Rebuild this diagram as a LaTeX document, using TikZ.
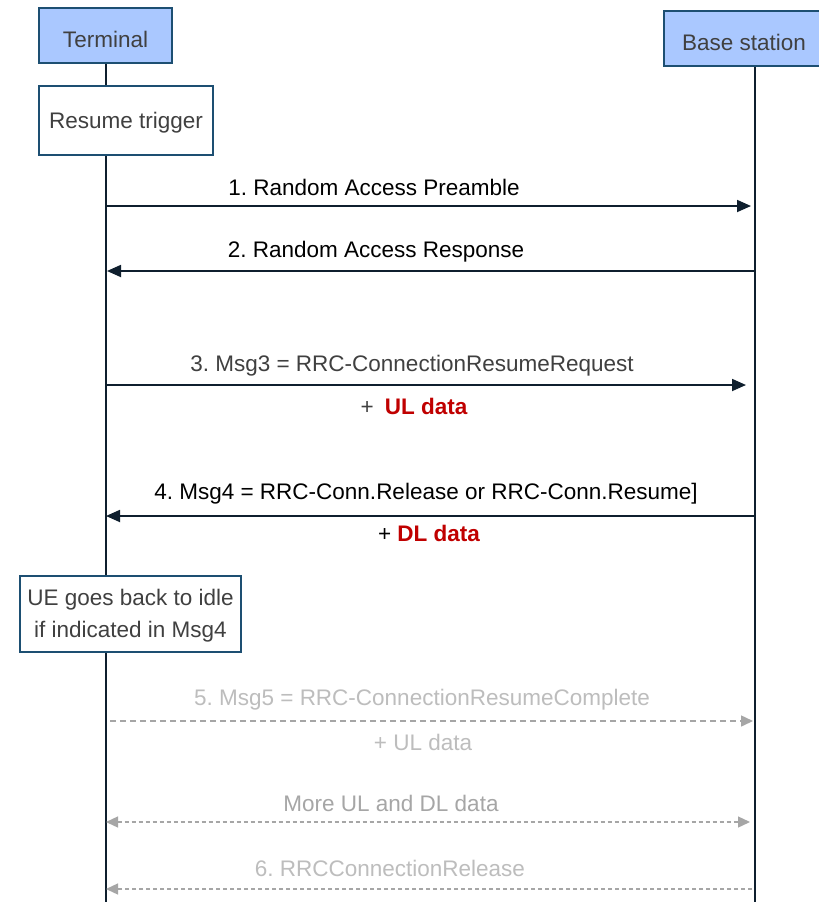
\documentclass[tikz,border=0pt]{standalone}
\usepackage{fontspec}
\setmainfont{Liberation Sans}
\usetikzlibrary{arrows.meta}
\frenchspacing
\definecolor{boxfill}{HTML}{AAC8FF}
\definecolor{boxline}{HTML}{1D4F72}
\definecolor{txt}{HTML}{404040}
\definecolor{life}{HTML}{0F1F2E}
\definecolor{ared}{HTML}{C00000}
\definecolor{lgray}{HTML}{BDBDBD}
\definecolor{mgray}{HTML}{A6A6A6}
\tikzset{
  ent/.style={draw=boxline, line width=2.6pt, fill=boxfill, text=txt, inner sep=0pt},
  note/.style={draw=boxline, line width=2.6pt, fill=white, text=txt, inner sep=0pt, align=center},
  lifeline/.style={draw=life, line width=2.4pt},
  msg/.style={draw=life, line width=1.8pt, -{Triangle[length=14pt,width=12pt]}},
  dmsg/.style={draw=mgray, line width=1.5pt, dash pattern=on 6pt off 4pt, -{Triangle[length=12pt,width=11pt]}},
  dmsg2/.style={draw=mgray, line width=1.3pt, dash pattern=on 4pt off 3pt, {Triangle[length=12pt,width=11pt]}-{Triangle[length=12pt,width=11pt]}},
  lbl/.style={inner sep=0pt, text=black},
  glbl/.style={inner sep=0pt, text=lgray},
}
\begin{document}
\begin{tikzpicture}[x=1pt,y=-1pt, font=\fontsize{22.5}{27}\selectfont]
\clip (0,0) rectangle (819,902);
\fill[white] (0,0) rectangle (819,902);
% lifelines
\coordinate (tb) at (106,910);
\coordinate (bb) at (755,910);
\draw[lifeline] (106,60) -- (tb);
\draw[lifeline] (755,60) -- (bb);
% entity boxes
\node[ent, minimum width=133pt, minimum height=55pt] (term) at (105.5,35.5) {};
\node[text=txt, inner sep=0pt] (termtxt) at (105.5,39) {Terminal};
\node[ent, minimum width=160pt, minimum height=55pt] (base) at (744,38.5) {};
\node[text=txt, inner sep=0pt] (basetxt) at (744,42) {Base station};
% notes
\node[note, minimum width=174pt, minimum height=69pt] (trig) at (126,120.5) {};
\node[text=txt, inner sep=0pt] (trigtxt) at (126,122.5) {Resume trigger};
\node[note, minimum width=221pt, minimum height=76pt] (idle) at (130.5,614) {};
\node[text=txt, inner sep=0pt] (idle1) at (130.5,600) {UE goes back to idle};
\node[text=txt, inner sep=0pt] (idle2) at (130.5,631.5) {if indicated in Msg4};
% message endpoints
\coordinate (t1) at (106,206); \coordinate (b1) at (751,206);
\coordinate (b2) at (755,271); \coordinate (t2) at (107,271);
\coordinate (t3) at (106,385); \coordinate (b3) at (746,385);
\coordinate (b4) at (755,516); \coordinate (t4) at (106,516);
\coordinate (t5) at (110,721); \coordinate (b5) at (753,721);
\coordinate (t6) at (106,822); \coordinate (b6) at (750,822);
\coordinate (b7) at (752,889); \coordinate (t7) at (106,889);
% messages
\draw[msg] (t1) -- (b1);
\draw[msg] (b2) -- (t2);
\draw[msg] (t3) -- (b3);
\draw[msg] (b4) -- (t4);
\draw[dmsg] (t5) -- (b5);
\draw[dmsg2] (t6) -- (b6);
\draw[dmsg, dash pattern=on 4pt off 3pt, line width=1.3pt] (b7) -- (t7);
% labels
\node[lbl] (l1) at (374,187) {1. Random Access Preamble};
\node[lbl] (l2) at (376,252) {2. Random Access Response};
\node[lbl, text=txt] (l3) at (412,366) {3. Msg3 = RRC-ConnectionResumeRequest};
\node[lbl, text=txt] (l3b) at (414,406) {+\hspace{0.5em}\textcolor{ared}{\bfseries UL data}};
\node[lbl] (l4) at (426,494) {4. Msg4 = RRC-Conn.Release or RRC-Conn.Resume]};
\node[lbl] (l4b) at (429,533) {+ \textcolor{ared}{\bfseries DL data}};
\node[glbl] (l5) at (422,700) {5. Msg5 = RRC-ConnectionResumeComplete};
\node[glbl] (l5b) at (423,742) {+ UL data};
\node[lbl, text=mgray] (l6) at (391,803) {More UL and DL data};
\node[glbl] (l7) at (390,868) {6. RRCConnectionRelease};
\end{tikzpicture}
\end{document}
